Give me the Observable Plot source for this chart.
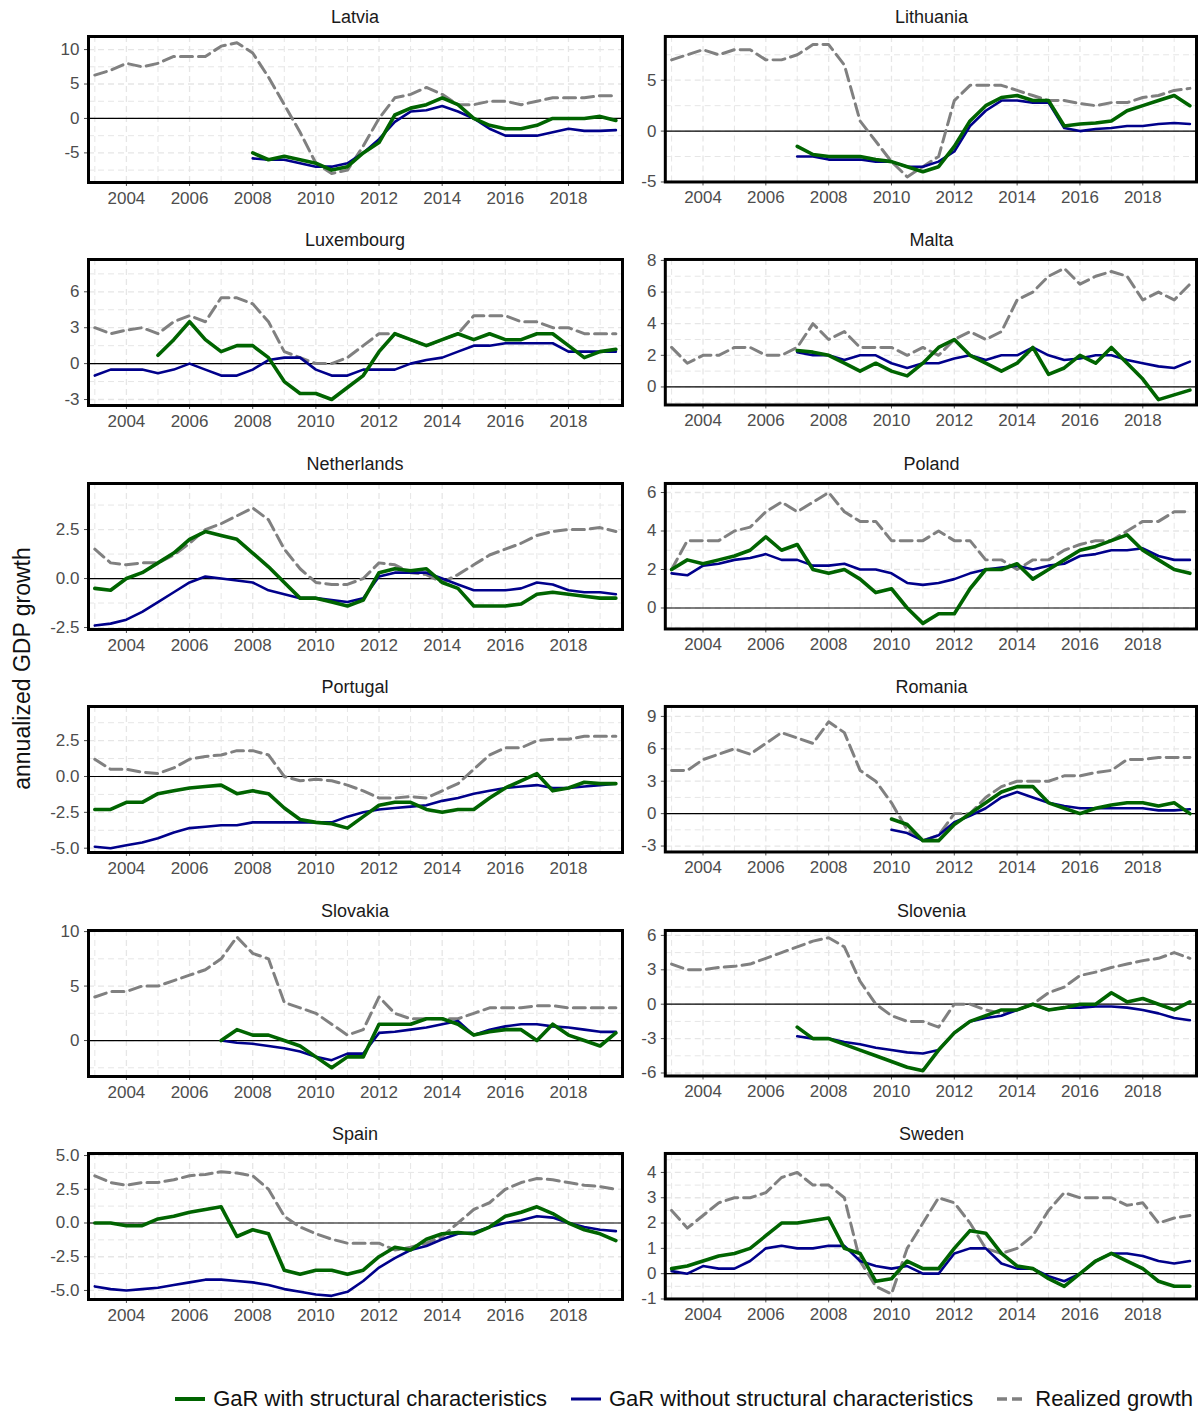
<!DOCTYPE html>
<html><head><meta charset="utf-8">
<script src="https://cdn.jsdelivr.net/npm/d3@7"></script>
<script src="https://cdn.jsdelivr.net/npm/@observablehq/plot@0.6"></script>
<style>
body{margin:0;background:#fff;font-family:"Liberation Sans",Arial,sans-serif;}
#wrap{position:relative;width:1198px;height:1417px;}
.title{position:absolute;font-size:18px;color:#1a1a1a;text-align:center;}
.panel{position:absolute;}
#ylab{position:absolute;left:-128px;top:655px;width:300px;text-align:center;font-size:23px;transform:rotate(-90deg);color:#111;white-space:nowrap;}
#legend{position:absolute;top:1386px;left:105px;width:1088px;display:flex;justify-content:flex-end;gap:22px;font-size:22px;color:#111;align-items:center;}
#legend span{display:flex;align-items:center;gap:6px;}
</style></head><body>
<div id="wrap"><div id="ylab">annualized GDP growth</div>
<div id="legend">
<span><svg width="34" height="10"><line x1="2" x2="32" y1="5" y2="5" stroke="#006400" stroke-width="4"/></svg>GaR with structural characteristics</span>
<span><svg width="34" height="10"><line x1="2" x2="32" y1="5" y2="5" stroke="#00008B" stroke-width="3"/></svg>GaR without structural characteristics</span>
<span><svg width="34" height="10"><line x1="2" x2="32" y1="5" y2="5" stroke="#808080" stroke-width="3.5" stroke-dasharray="10,5"/></svg>Realized growth</span>
</div></div>
<script>
// semiannual readings starting at the given year
const countries = ["Latvia","Lithuania","Luxembourg","Malta","Netherlands","Poland","Portugal","Romania","Slovakia","Slovenia","Spain","Sweden"];
const yTicks = [[-5,0,5,10],[-5,0,5],[-3,0,3,6],[0,2,4,6,8],[-2.5,0,2.5],[0,2,4,6],[-5,-2.5,0,2.5],[-3,0,3,6,9],[0,5,10],[-6,-3,0,3,6],[-5,-2.5,0,2.5,5],[-1,0,1,2,3,4]];
const yDomains = [[-9.3,11.9],[-5,9.3],[-3.5,8.7],[-1.14,8.06],[-2.6,4.85],[-1.09,6.47],[-5.3,4.88],[-3.55,9.92],[-3.3,10.1],[-6.26,6.43],[-5.67,5.15],[-1,4.75]];
const xTicks = [2004,2006,2008,2010,2012,2014,2016,2018];

const realStart = 2003;
const real = [
 [6.3,7,8,7.5,8,9,9,9,10.5,11,9.5,6,2,-2,-6.5,-8,-7.5,-4,0,3,3.5,4.5,3.5,2,2,2.5,2.5,2,2.5,3,3,3,3.3,3.3],
 [7,7.5,8,7.5,8,8,7,7,7.5,8.5,8.5,6.5,1,-1,-3,-4.5,-3.5,-2.5,3,4.5,4.5,4.5,4,3.5,3,3,2.7,2.5,2.8,2.8,3.3,3.5,4,4.2],
 [3,2.5,2.8,3,2.5,3.5,4,3.5,5.5,5.5,5,3.5,1,0.5,0,0,0.5,1.5,2.5,2.5,2,1.5,2,2.5,4,4,4,3.5,3.5,3,3,2.5,2.5,2.5],
 [2.5,1.5,2,2,2.5,2.5,2,2,2.5,4,3,3.5,2.5,2.5,2.5,2,2.5,2,3,3.5,3,3.5,5.5,6,7,7.5,6.5,7,7.3,7,5.5,6,5.5,6.5],
 [1.5,0.8,0.7,0.8,0.8,1.2,1.8,2.5,2.8,3.2,3.6,3,1.5,0.5,-0.2,-0.3,-0.3,0,0.8,0.7,0.3,0.2,-0.2,0.2,0.7,1.2,1.5,1.8,2.2,2.4,2.5,2.5,2.6,2.4],
 [2,3.5,3.5,3.5,4,4.2,5,5.5,5,5.5,6,5,4.5,4.5,3.5,3.5,3.5,4,3.5,3.5,2.5,2.5,2,2.5,2.5,3,3.3,3.5,3.5,4,4.5,4.5,5,5],
 [1.2,0.5,0.5,0.3,0.2,0.6,1.2,1.4,1.5,1.8,1.8,1.5,0,-0.3,-0.2,-0.3,-0.6,-1,-1.5,-1.5,-1.4,-1.5,-1,-0.5,0.5,1.5,2,2,2.5,2.6,2.6,2.8,2.8,2.8],
 [4,4,5,5.5,6,5.5,6.5,7.5,7,6.5,8.5,7.5,4,3,1,-1.5,-2.5,-2,0,0,1.5,2.5,3,3,3,3.5,3.5,3.8,4,5,5,5.2,5.2,5.2],
 [4,4.5,4.5,5,5,5.5,6,6.5,7.5,9.5,8,7.5,3.5,3,2.5,1.5,0.5,1,4,2.5,2,2,2,2,2.5,3,3,3,3.2,3.2,3,3,3,3],
 [3.5,3,3,3.2,3.3,3.5,4,4.5,5,5.5,5.8,5,2,0,-1,-1.5,-1.5,-2,0,0,-0.5,-0.8,-0.5,0,1,1.5,2.5,2.8,3.2,3.5,3.8,4,4.5,4],
 [3.5,3,2.8,3,3,3.2,3.5,3.6,3.8,3.7,3.5,2.5,0.5,-0.3,-0.8,-1.2,-1.5,-1.5,-1.5,-2,-1.8,-1.5,-1,0,1,1.5,2.5,3,3.3,3.2,3,2.8,2.7,2.5],
 [2.5,1.8,2.3,2.8,3,3,3.2,3.8,4,3.5,3.5,3,0.5,-0.5,-0.8,1,2,3,2.8,2,1,0.8,1,1.5,2.5,3.2,3,3,3,2.7,2.8,2,2.2,2.3]
];
const garStart = [2008,2007,2005,2007,2003,2003,2003,2010,2007,2007,2003,2003];
const gar = [
 [-5,-6,-5.5,-6,-6.5,-7.5,-7,-5,-3.5,0.5,1.5,2,3,2,0,-1,-1.5,-1.5,-1,0,0,0,0.3,-0.3],
 [-1.5,-2.3,-2.5,-2.5,-2.5,-2.8,-3,-3.5,-4,-3.5,-1.5,1,2.5,3.3,3.5,3,3,0.5,0.7,0.8,1,2,2.5,3,3.5,2.5],
 [0.7,2,3.5,2,1,1.5,1.5,0.5,-1.5,-2.5,-2.5,-3,-2,-1,1,2.5,2,1.5,2,2.5,2,2.5,2,2,2.5,2.5,1.5,0.5,1,1.2],
 [2.3,2.2,2,1.5,1,1.5,1,0.7,1.5,2.5,3,2,1.5,1,1.5,2.5,0.8,1.2,2,1.5,2.5,1.5,0.5,-0.8,-0.5,-0.2],
 [-0.5,-0.6,0,0.3,0.8,1.3,2,2.4,2.2,2,1.3,0.6,-0.2,-1,-1,-1.2,-1.4,-1.1,0.3,0.5,0.4,0.5,-0.2,-0.5,-1.4,-1.4,-1.4,-1.3,-0.8,-0.7,-0.8,-0.9,-1,-1],
 [2,2.5,2.3,2.5,2.7,3,3.7,3,3.3,2,1.8,2,1.5,0.8,1,0,-0.8,-0.3,-0.3,1,2,2,2.3,1.5,2,2.5,3,3.2,3.5,3.8,3,2.5,2,1.8],
 [-2.3,-2.3,-1.8,-1.8,-1.2,-1,-0.8,-0.7,-0.6,-1.2,-1,-1.2,-2.2,-3,-3.2,-3.3,-3.6,-2.8,-2,-1.8,-1.8,-2.3,-2.5,-2.3,-2.3,-1.5,-0.8,-0.3,0.2,-1,-0.8,-0.4,-0.5,-0.5],
 [-0.5,-1,-2.5,-2.5,-1,0,1,2,2.5,2.5,1,0.5,0,0.5,0.8,1,1,0.7,1,0],
 [0,1,0.5,0.5,0,-0.5,-1.5,-2.5,-1.5,-1.5,1.5,1.5,1.5,2,2,1.5,0.5,0.8,1,1,0,1.5,0.5,0,-0.5,0.7],
 [-2,-3,-3,-3.5,-4,-4.5,-5,-5.5,-5.8,-4,-2.5,-1.5,-1,-0.5,-0.5,0,-0.5,-0.3,0,0,1,0.2,0.5,0,-0.5,0.2],
 [0,0,-0.2,-0.2,0.3,0.5,0.8,1,1.2,-1,-0.5,-0.8,-3.5,-3.8,-3.5,-3.5,-3.8,-3.5,-2.5,-1.8,-2,-1.2,-0.8,-0.7,-0.8,-0.3,0.5,0.8,1.2,0.7,0,-0.5,-0.8,-1.3],
 [0.2,0.3,0.5,0.7,0.8,1,1.5,2,2,2.1,2.2,1,0.8,-0.3,-0.2,0.5,0.2,0.2,1,1.7,1.6,0.8,0.3,0.2,-0.2,-0.5,0,0.5,0.8,0.5,0.2,-0.3,-0.5,-0.5]
];
const noStart = [2008,2007,2003,2007,2003,2003,2003,2010,2007,2007,2003,2003];
const noStruct = [
 [-5.8,-6,-6,-6.5,-7,-7,-6.5,-5,-3,-0.5,1,1.2,1.8,1,0,-1.5,-2.5,-2.5,-2.5,-2,-1.5,-1.8,-1.8,-1.7],
 [-2.5,-2.5,-2.8,-2.8,-2.8,-3,-3,-3.5,-3.5,-3,-2,0.5,2,3,3,2.8,2.8,0.3,0,0.2,0.3,0.5,0.5,0.7,0.8,0.7],
 [-1,-0.5,-0.5,-0.5,-0.8,-0.5,0,-0.5,-1,-1,-0.5,0.3,0.5,0.5,-0.5,-1,-1,-0.5,-0.5,-0.5,0,0.3,0.5,1,1.5,1.5,1.7,1.7,1.7,1.7,1,1,1,1],
 [2.2,2,2,1.7,2,2,1.5,1.2,1.5,1.5,1.8,2,1.7,2,2,2.5,2,1.7,1.8,2,2,1.7,1.5,1.3,1.2,1.6],
 [-2.4,-2.3,-2.1,-1.7,-1.2,-0.7,-0.2,0.1,0,-0.1,-0.2,-0.6,-0.8,-1,-1,-1.1,-1.2,-1,0.1,0.3,0.3,0.3,0,-0.3,-0.6,-0.6,-0.6,-0.5,-0.2,-0.3,-0.6,-0.7,-0.7,-0.8],
 [1.8,1.7,2.2,2.3,2.5,2.6,2.8,2.5,2.5,2.2,2.2,2.3,2,2,1.8,1.3,1.2,1.3,1.5,1.8,2,2.1,2.2,2,2.2,2.3,2.7,2.8,3,3,3.1,2.7,2.5,2.5],
 [-4.9,-5,-4.8,-4.6,-4.3,-3.9,-3.6,-3.5,-3.4,-3.4,-3.2,-3.2,-3.2,-3.2,-3.2,-3.2,-2.8,-2.5,-2.3,-2.2,-2.1,-2,-1.7,-1.5,-1.2,-1,-0.8,-0.7,-0.6,-0.8,-0.8,-0.7,-0.6,-0.5],
 [-1.5,-1.8,-2.5,-2,-0.8,-0.2,0.5,1.5,2,1.5,1,0.7,0.5,0.5,0.5,0.5,0.5,0.3,0.3,0.4],
 [0,-0.2,-0.3,-0.5,-0.7,-1,-1.5,-1.8,-1.2,-1.2,0.7,0.8,1,1.2,1.5,1.8,0.5,1,1.3,1.5,1.5,1.3,1.2,1,0.8,0.8],
 [-2.8,-3,-3,-3.3,-3.5,-3.8,-4,-4.2,-4.3,-4,-2.5,-1.5,-1.2,-1,-0.5,0,-0.5,-0.3,-0.3,-0.2,-0.2,-0.3,-0.5,-0.8,-1.2,-1.4],
 [-4.7,-4.9,-5,-4.9,-4.8,-4.6,-4.4,-4.2,-4.2,-4.3,-4.4,-4.6,-4.9,-5.1,-5.3,-5.4,-5.1,-4.3,-3.3,-2.6,-2,-1.7,-1.2,-0.8,-0.7,-0.3,0,0.2,0.5,0.4,0,-0.3,-0.5,-0.6],
 [0.1,0,0.3,0.2,0.2,0.5,1,1.1,1,1,1.1,1.1,0.5,0.3,0.2,0.3,0,0,0.8,1,1,0.4,0.2,0.2,-0.1,-0.3,0,0.5,0.8,0.8,0.7,0.5,0.4,0.5]
];

const rows = (start, vals) => vals.map((v, i) => ({t: start + i * 0.5, v}));
const wrap = document.getElementById("wrap");
const frameTops = [36, 259, 483, 706, 930, 1153];

countries.forEach((name, i) => {
  const col = i % 2, row = Math.floor(i / 2);
  const top = frameTops[row];
  const left = col ? 610 : 30;
  const width = col ? 590 : 594;
  const ml = col ? 55 : 58;
  const ticks = yTicks[i];
  const [lo, hi] = yDomains[i];
  const step = ticks[1] - ticks[0];
  const decimal = ticks.some(t => !Number.isInteger(t));
  const fmt = d => (decimal ? d.toFixed(1) : String(d));
  const minorY = ticks.map(t => t + step / 2).concat([ticks[0] - step / 2]).filter(v => v > lo && v < hi);
  const minorX = d3.range(2003, 2020, 2);
  const grid = "#e6e6e6";

  const chart = Plot.plot({
    width, height: 184,
    marginLeft: ml, marginRight: 2, marginTop: 8, marginBottom: 30,
    style: {fontSize: "17px", fontFamily: "Liberation Sans, Arial, sans-serif", color: "#4d4d4d", overflow: "visible"},
    x: {domain: [2002.8, 2019.71], ticks: xTicks, tickFormat: d => String(d), tickSize: 4, label: null},
    y: {domain: yDomains[i], ticks, tickFormat: fmt, tickSize: 4, label: null},
    marks: [
      Plot.gridX(minorX, {stroke: grid, strokeOpacity: 1, strokeDasharray: "6,4"}),
      Plot.gridY(minorY, {stroke: grid, strokeOpacity: 1, strokeDasharray: "6,4"}),
      Plot.gridX(xTicks, {stroke: grid, strokeOpacity: 1, strokeDasharray: "6,4", strokeWidth: 1.3}),
      Plot.gridY(ticks, {stroke: grid, strokeOpacity: 1, strokeDasharray: "6,4", strokeWidth: 1.3}),
      Plot.ruleY([0], {stroke: "black", strokeWidth: 1.2}),
      Plot.line(rows(realStart, real[i]), {x: "t", y: "v", stroke: "#808080", strokeWidth: 3, strokeDasharray: "12,6"}),
      Plot.line(rows(noStart[i], noStruct[i]), {x: "t", y: "v", stroke: "#00008B", strokeWidth: 2.6}),
      Plot.line(rows(garStart[i], gar[i]), {x: "t", y: "v", stroke: "#006400", strokeWidth: 3.6}),
      Plot.frame({stroke: "black", strokeWidth: 3})
    ]
  });
  const div = document.createElement("div");
  div.className = "panel";
  div.style.left = left + "px";
  div.style.top = (top - 8) + "px";
  div.append(chart);
  wrap.append(div);

  const t = document.createElement("div");
  t.className = "title";
  t.textContent = name;
  t.style.left = (left + ml) + "px";
  t.style.width = (width - ml - 2) + "px";
  t.style.top = (top - 29) + "px";
  wrap.append(t);
});
</script></body></html>
